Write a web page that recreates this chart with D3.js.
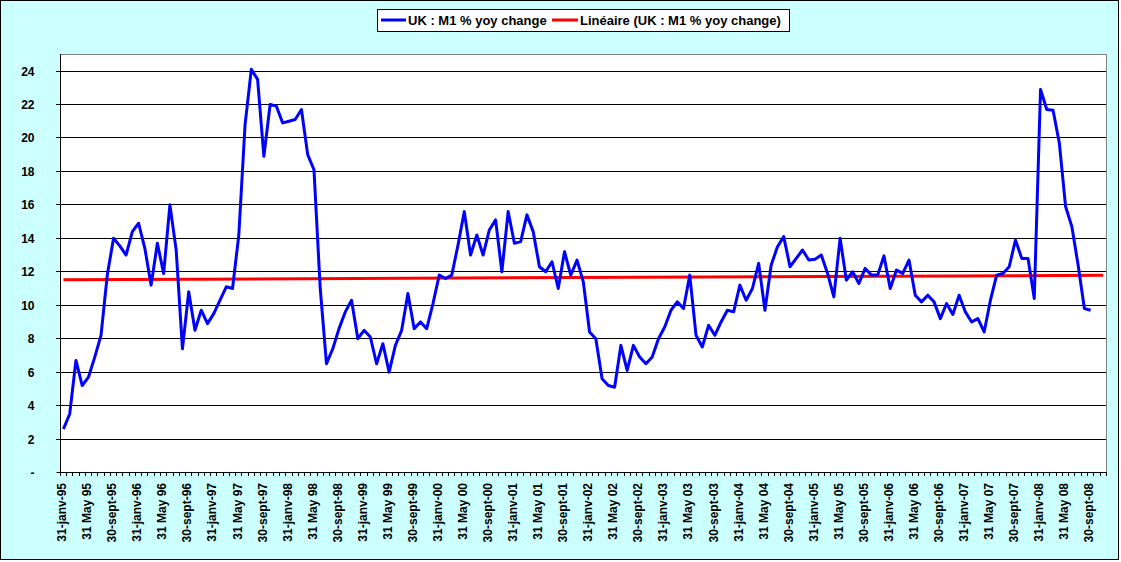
<!DOCTYPE html>
<html>
<head>
<meta charset="utf-8">
<script src="https://cdn.jsdelivr.net/npm/d3@7"></script>
<style>
  html, body { margin: 0; padding: 0; background: #fff; }
  svg { display: block; }
  text { font-family: "Liberation Sans", Arial, sans-serif; font-weight: bold; fill: #000; }
</style>
</head>
<body>
<svg id="chart" width="1121" height="562"></svg>
<script>
// ---------- DATA ----------
const seriesName = "UK : M1 % yoy change";
const trendName = "Linéaire (UK : M1 % yoy change)";

// monthly categories Jan 1995 .. Nov 2008 (axis extends 2 periods past the data for the trend)
const categories = d3.timeMonth.range(new Date(1995, 0, 1), new Date(2008, 11, 1));

// UK M1 % yoy change, Jan 1995 .. Sep 2008
const m1Values = [
  2.6, 3.5, 6.7, 5.2, 5.7, 6.9, 8.2, 11.8, 14.0, 13.55, 13.0, 14.4,
  14.9, 13.4, 11.2, 13.7, 11.9, 16.0, 13.3, 7.4, 10.8, 8.5, 9.7, 8.9,
  9.5, 10.3, 11.1, 11.0, 14.2, 20.8, 24.1, 23.5, 18.9, 22.0, 21.9, 20.9,
  21.0, 21.1, 21.7, 19.0, 18.1, 11.0, 6.5, 7.4, 8.6, 9.6, 10.3, 8.0,
  8.5, 8.1, 6.5, 7.7, 6.0, 7.6, 8.5, 10.7, 8.6, 9.0, 8.6, 10.1,
  11.8, 11.6, 11.8, 13.6, 15.6, 13.0, 14.2, 13.0, 14.5, 15.1, 12.0, 15.6,
  13.7, 13.8, 15.4, 14.4, 12.3, 12.0, 12.6, 11.0, 13.2, 11.8, 12.7, 11.4,
  8.4, 8.0, 5.6, 5.2, 5.1, 7.6, 6.1, 7.6, 6.9, 6.5, 6.9, 8.0,
  8.7, 9.7, 10.2, 9.8, 11.8, 8.2, 7.5, 8.8, 8.2, 9.0, 9.7, 9.6,
  11.2, 10.3, 11.0, 12.5, 9.7, 12.4, 13.5, 14.1, 12.3, 12.8, 13.3, 12.7,
  12.75, 13.0, 11.9, 10.5, 14.0, 11.5, 12.0, 11.3, 12.2, 11.8, 11.8, 12.95,
  11.0, 12.1, 11.9, 12.7, 10.6, 10.2, 10.6, 10.2, 9.2, 10.1, 9.45, 10.6,
  9.6, 9.0, 9.2, 8.4, 10.3, 11.8, 11.9, 12.3, 13.9, 12.8, 12.8, 10.4,
  22.9, 21.7, 21.65, 19.7, 15.9, 14.7, 12.4, 9.8, 9.7
];

// linear trend line (start / end values)
const trendIndex = [0, 166];
const trendValues = [11.52, 11.79];

const yTicks = [0, 2, 4, 6, 8, 10, 12, 14, 16, 18, 20, 22, 24];
const yMax = 25;

// category tick labels (every 4th month)
const tickLabels = [
  "31-janv-95", "31 May 95", "30-sept-95",
  "31-janv-96", "31 May 96", "30-sept-96",
  "31-janv-97", "31 May 97", "30-sept-97",
  "31-janv-98", "31 May 98", "30-sept-98",
  "31-janv-99", "31 May 99", "30-sept-99",
  "31-janv-00", "31 May 00", "30-sept-00",
  "31-janv-01", "31 May 01", "30-sept-01",
  "31-janv-02", "31 May 02", "30-sept-02",
  "31-janv-03", "31 May 03", "30-sept-03",
  "31-janv-04", "31 May 04", "30-sept-04",
  "31-janv-05", "31 May 05", "30-sept-05",
  "31-janv-06", "31 May 06", "30-sept-06",
  "31-janv-07", "31 May 07", "30-sept-07",
  "31-janv-08", "31 May 08", "30-sept-08"
];
const labelEvery = 4;

// ---------- LAYOUT ----------
const W = 1121, H = 562;
const plot = { left: 60.3, right: 1106.3, top: 54.3, bottom: 472.5 };

const svg = d3.select("#chart");

// chart area
svg.append("rect")
  .attr("x", 0.5).attr("y", 0.5).attr("width", 1118).attr("height", 559)
  .attr("fill", "#CCFFFF").attr("stroke", "#000").attr("stroke-width", 1);

// plot area
svg.append("rect")
  .attr("x", 60.5).attr("y", 54.5)
  .attr("width", 1106.5 - 60.5).attr("height", 472.5 - 54.5)
  .attr("fill", "#fff").attr("stroke", "#808080").attr("stroke-width", 1);

const x = d3.scaleBand()
  .domain(d3.range(categories.length))
  .range([plot.left, plot.right])
  .paddingInner(0).paddingOuter(0);
const cx = i => x(i) + x.bandwidth() / 2;

const y = d3.scaleLinear().domain([0, yMax]).range([plot.bottom, plot.top]);
const crisp = v => Math.floor(v) + 0.5;

// gridlines
svg.append("g").selectAll("line")
  .data(yTicks.filter(d => d > 0))
  .join("line")
  .attr("x1", 56).attr("x2", 1106)
  .attr("y1", d => crisp(y(d))).attr("y2", d => crisp(y(d)))
  .attr("stroke", "#000").attr("stroke-width", 1);

// y axis
const yAxis = d3.axisLeft(y)
  .tickValues(yTicks)
  .tickSize(4)
  .tickPadding(22)
  .tickFormat(d => d === 0 ? "-" : String(d));
const gy = svg.append("g")
  .attr("transform", "translate(60.5,0)")
  .call(yAxis);
gy.select(".domain").remove();
gy.selectAll(".tick").attr("transform", d => `translate(0,${crisp(y(d))})`);
gy.selectAll(".tick line").attr("stroke", "#000");
gy.selectAll(".tick text")
  .attr("font-size", 12).attr("font-family", null).attr("fill", "#000")
  .attr("dy", "0.35em");
svg.append("line")
  .attr("x1", 60.5).attr("x2", 60.5).attr("y1", 54).attr("y2", 473)
  .attr("stroke", "#000");

// x axis line
svg.append("line")
  .attr("x1", 60).attr("x2", 1107).attr("y1", 472.5).attr("y2", 472.5)
  .attr("stroke", "#000");

// x ticks at category boundaries
const boundaries = d3.range(categories.length + 1).map(i => i === categories.length ? plot.right : x(i));
svg.append("g").selectAll("line")
  .data(boundaries)
  .join("line")
  .attr("x1", d => crisp(d)).attr("x2", d => crisp(d))
  .attr("y1", 472).attr("y2", 476)
  .attr("stroke", "#000");

// x labels via axis
const xAxis = d3.axisBottom(x)
  .tickValues(d3.range(0, tickLabels.length).map(k => k * labelEvery))
  .tickSize(0)
  .tickFormat(i => tickLabels[i / labelEvery]);
const gx = svg.append("g")
  .attr("transform", "translate(0,483)")
  .call(xAxis);
gx.select(".domain").remove();
gx.selectAll(".tick").attr("transform", i => `translate(${cx(i) - 1.5},0)`);
gx.selectAll(".tick text")
  .attr("font-size", 12).attr("font-family", null).attr("fill", "#000")
  .attr("transform", "rotate(-90)")
  .attr("text-anchor", "end")
  .attr("x", 0).attr("y", 0)
  .attr("dy", "0.35em");

// trend line
const trendLine = d3.line().x(d => cx(d[0])).y(d => y(d[1]));
svg.append("path")
  .datum(trendIndex.map((i, k) => [i, trendValues[k]]))
  .attr("d", trendLine)
  .attr("fill", "none").attr("stroke", "#FF0000").attr("stroke-width", 3);

// series line
const line = d3.line().x((d, i) => cx(i)).y(d => y(d));
svg.append("path")
  .datum(m1Values)
  .attr("d", line)
  .attr("fill", "none").attr("stroke", "#0000FF").attr("stroke-width", 3)
  .attr("stroke-linejoin", "round");

// legend
const lg = svg.append("g");
lg.append("rect")
  .attr("x", 377.5).attr("y", 9.5).attr("width", 412).attr("height", 22)
  .attr("fill", "#fff").attr("stroke", "#000");
const legendItems = [
  { name: seriesName, color: "#0000FF", x0: 381, x1: 406, tx: 408 },
  { name: trendName, color: "#FF0000", x0: 552, x1: 578, tx: 580 }
];
legendItems.forEach(it => {
  lg.append("line")
    .attr("x1", it.x0).attr("x2", it.x1).attr("y1", 20).attr("y2", 20)
    .attr("stroke", it.color).attr("stroke-width", 3);
  lg.append("text")
    .attr("x", it.tx).attr("y", 24.5)
    .attr("font-size", 13)
    .text(it.name);
});
</script>
</body>
</html>
